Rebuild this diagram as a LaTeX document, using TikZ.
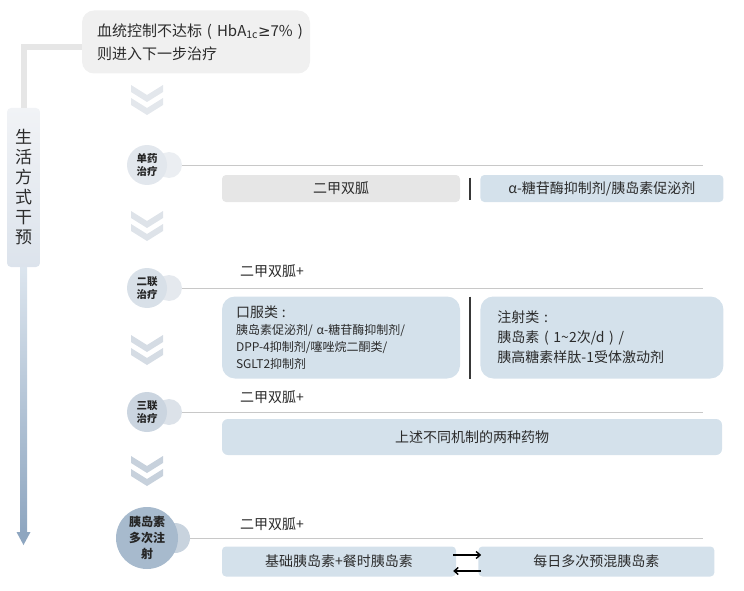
\documentclass[tikz,border=0pt]{standalone}
\usepackage{fontspec}
\setmainfont{Noto Sans CJK SC}
\newfontfamily\symfont{DejaVu Sans}
\usetikzlibrary{positioning, calc, arrows.meta}

\definecolor{txtgray}{HTML}{2B2B2B}
\definecolor{goalgray}{HTML}{F0F0F0}
\definecolor{linkgray}{HTML}{E6E6E6}
\definecolor{lifetop}{HTML}{F1F3F6}
\definecolor{lifebot}{HTML}{DCE3EC}
\definecolor{arrowtop}{HTML}{DCE5EE}
\definecolor{arrowbot}{HTML}{8EA6C0}
\definecolor{chevA}{HTML}{E3E7EC}
\definecolor{chevB}{HTML}{DEE3E9}
\definecolor{chevC}{HTML}{D5DCE4}
\definecolor{chevD}{HTML}{C7D1DC}
\definecolor{stageA}{HTML}{E2E7ED}
\definecolor{stageB}{HTML}{D8E0E8}
\definecolor{stageC}{HTML}{CBD5E0}
\definecolor{stageD}{HTML}{A7BACD}
\definecolor{tabA}{HTML}{EBEEF2}
\definecolor{tabB}{HTML}{E5E9EE}
\definecolor{tabC}{HTML}{DCE2E9}
\definecolor{tabD}{HTML}{C8D3DE}
\definecolor{linegray}{HTML}{C8C8C8}
\definecolor{boxgray}{HTML}{E6E6E6}
\definecolor{boxblue}{HTML}{D4E1EB}

\begin{document}
\begin{tikzpicture}[x = 1pt, y = -1pt, % one unit = one pixel, y downwards
        > = {Straight Barb[length=4pt, width=7pt]}, % arrow head style
        font = \fontsize{14}{18}\selectfont, text = txtgray
    ]

    \tikzstyle{goalbox}=[fill = goalgray, rounded corners = 12pt, inner sep = 0pt,
    minimum width = 228pt, minimum height = 63pt, text width = 198pt, align = left,
    font = \fontsize{15}{23}\selectfont]
    \tikzstyle{lifebox}=[top color = lifetop, bottom color = lifebot,
    rounded corners = 4pt, inner sep = 0pt, minimum width = 33pt,
    minimum height = 159pt, align = center, font = \fontsize{17}{20}\selectfont]
    \tikzstyle{linkline}=[draw = linkgray, line width = 6pt]
    \tikzstyle{stagecircle}=[circle, inner sep = 0pt, minimum size = 40pt,
    align = center, text = black!85, font = \fontsize{10.5}{13}\selectfont\bfseries]
    \tikzstyle{stagetab}=[circle, inner sep = 0pt, minimum size = 26pt]
    \tikzstyle{stageline}=[draw = linegray, line width = 1pt]
    \tikzstyle{mettext}=[anchor = west, inner sep = 0pt]
    \tikzstyle{graybox}=[fill = boxgray, rounded corners = 4pt, inner sep = 0pt,
    minimum height = 27pt]
    \tikzstyle{bluebox}=[fill = boxblue, rounded corners = 4pt, inner sep = 0pt,
    minimum height = 27pt]
    \tikzstyle{divider}=[draw = black!78, line width = 2.5pt]
    \tikzstyle{swaparrow}=[->, draw = black, line width = 1.4pt]

    \useasboundingbox (0,0) rectangle (744,591);

    % goal and lifestyle bar
    \node[goalbox] (goal) at (196,42)
    {血统控制不达标~(~HbA\textsubscript{1c}{\symfont ≥}7\%~)\\则进入下一步治疗};
    \node[lifebox] (life) at (23.5,187.5) {生\\活\\方\\式\\干\\预};
    \draw[linkline] ([yshift=-5pt]goal.west) -| (life.north);

    \coordinate (lifeend) at (23.5,545);
    \shade[top color = arrowtop, bottom color = arrowbot]
    ($(life.south)+(-3.5,0)$) rectangle ($(lifeend)+(3.5,-12)$);
    \fill[arrowbot] ($(lifeend)+(-7,-13)$) -- ($(lifeend)+(7,-13)$) -- (lifeend) -- cycle;

    % chevrons between the stages
    \foreach \y/\c in {85/chevA, 211/chevB, 335/chevC, 456/chevD}
    \foreach \d in {0,13}
    \fill[\c] (131,\y+\d) -- (147,\y+\d+10) -- (163,\y+\d) -- (163,\y+\d+7)
    -- (147,\y+\d+17) -- (131,\y+\d+7) -- cycle;

    % stage 1
    \node[stagetab, fill = tabA] (t1) at (169,165) {};
    \node[stagecircle, fill = stageA] (s1) at (147,165) {单药\\治疗};
    \coordinate (e1) at (703,165);
    \draw[stageline] (t1.east) -- (e1);
    \node[graybox, minimum width = 238pt] (b1) at (341,188.5) {二甲双胍};
    \node[bluebox, minimum width = 243pt, right = 20pt of b1] (b1r)
    {α-糖苷酶抑制剂/胰岛素促泌剂};
    \draw[divider] ([xshift=10pt, yshift=11pt]b1.east) -- ([xshift=10pt, yshift=-11pt]b1.east);

    % stage 2
    \node[stagetab, fill = tabB] (t2) at (169,288) {};
    \node[stagecircle, fill = stageB] (s2) at (147,288) {二联\\治疗};
    \coordinate (e2) at (703,288);
    \draw[stageline] (t2.east) -- (e2);
    \node[mettext] (m2) at (240,271) {二甲双胍+};
    \node[bluebox, rounded corners = 13pt, minimum width = 238pt, minimum height = 82pt,
    text width = 210pt, align = left, font = \fontsize{12}{17}\selectfont] (b2) at (341,337.5)
    {{\fontsize{14}{17}\selectfont 口服类~:}\\胰岛素促泌剂/ α-糖苷酶抑制剂/\\DPP-4抑制剂/噻唑烷二酮类/\\SGLT2抑制剂};
    \node[bluebox, rounded corners = 13pt, minimum width = 243pt, minimum height = 82pt,
    text width = 209pt, align = left, font = \fontsize{14}{20}\selectfont, right = 20pt of b2] (b2r)
    {注射类~:\\胰岛素~(~1\textasciitilde 2次/d~)~/\\胰高糖素样肽-1受体激动剂};
    \draw[divider] ([xshift=10pt, yshift=41pt]b2.east) -- ([xshift=10pt, yshift=-41pt]b2.east);

    % stage 3
    \node[stagetab, fill = tabC] (t3) at (169,412) {};
    \node[stagecircle, fill = stageC] (s3) at (147,412) {三联\\治疗};
    \coordinate (e3) at (703,412);
    \draw[stageline] (t3.east) -- (e3);
    \node[mettext] (m3) at (240,397) {二甲双胍+};
    \node[bluebox, rounded corners = 6pt, minimum width = 500pt, minimum height = 36pt]
    (b3) at (472,437) {上述不同机制的两种药物};

    % stage 4
    \node[stagetab, fill = tabD, minimum size = 30pt] (t4) at (175,538) {};
    \node[stagecircle, fill = stageD, minimum size = 62pt,
    font = \fontsize{12}{16}\selectfont\bfseries] (s4) at (147,538) {胰岛素\\多次注\\射};
    \coordinate (e4) at (703,538);
    \draw[stageline] (t4.east) -- (e4);
    \node[mettext] (m4) at (240,524) {二甲双胍+};
    \node[bluebox, minimum width = 234pt, minimum height = 30pt] (b4) at (339,561.5)
    {基础胰岛素+餐时胰岛素};
    \node[bluebox, minimum width = 236pt, minimum height = 30pt, right = 22pt of b4] (b4r)
    {每日多次预混胰岛素};
    \draw[swaparrow] ([xshift=-3pt, yshift=6.5pt]b4.east) -- ([xshift=3pt, yshift=6.5pt]b4r.west);
    \draw[swaparrow] ([xshift=3pt, yshift=-9.5pt]b4r.west) -- ([xshift=-3pt, yshift=-9.5pt]b4.east);

\end{tikzpicture}
\end{document}
